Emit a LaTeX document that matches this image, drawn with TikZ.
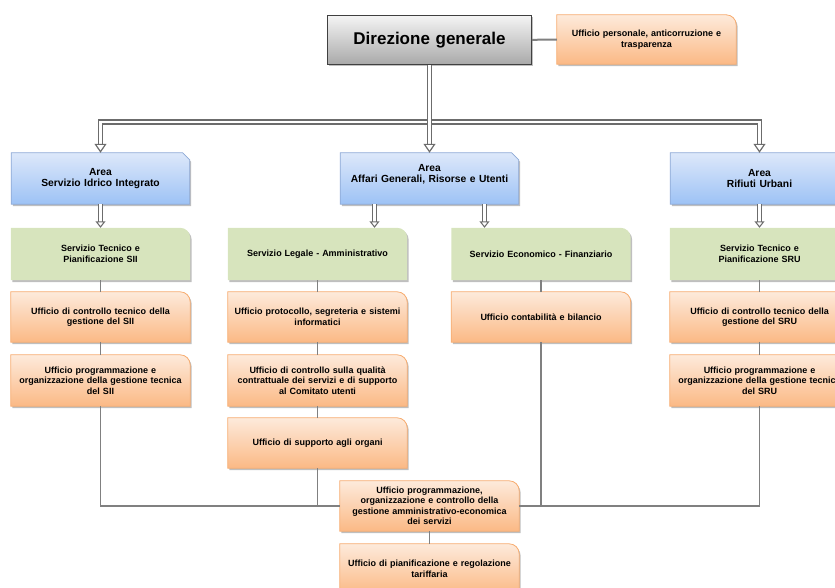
\documentclass[tikz,border=0pt]{standalone}
\usepackage{fontspec}
\setmainfont{Liberation Sans}
\usepackage{tikz}
\usetikzlibrary{arrows.meta}
\usetikzlibrary{positioning}
\usetikzlibrary{backgrounds}
\usetikzlibrary{shadows}

\definecolor{blueTop}{HTML}{DDE8FA}
\definecolor{blueBottom}{HTML}{9DC2F5}
\definecolor{blueLine}{HTML}{8DA9D6}
\definecolor{greenFill}{HTML}{D7E4BD}
\definecolor{orangeTop}{HTML}{FDEADB}
\definecolor{orangeBottom}{HTML}{FBB985}
\definecolor{orangeLine}{HTML}{F7AC70}
\definecolor{grayTop}{HTML}{F4F4F4}
\definecolor{grayBottom}{HTML}{A9A9A9}
\definecolor{linkGray}{HTML}{808080}

% box with rounded top right corner
\newcommand\roundBox[2]{
  \path[#2] (#1.south west) -- (#1.north west) -- ([xshift=-10pt]#1.north east)
    arc[start angle=90, end angle=0, radius=10pt] -- (#1.south east) -- cycle;
}
% box with cut top right corner
\newcommand\cutBox[2]{
  \path[#2] (#1.south west) -- (#1.north west) -- ([xshift=-7pt]#1.north east)
    -- ([yshift=-7pt]#1.north east) -- (#1.south east) -- cycle;
}

\begin{document}
\begin{tikzpicture}[x=1pt,y=1pt]
\tikzset{
  boxNode/.style={
    minimum width=179pt,
    minimum height=50pt,
    inner sep=0pt,
    text width=178pt,
    align=center,
    font=\fontsize{9}{10.5}\selectfont\bfseries
    },
  areaNode/.style={
    boxNode,
    minimum width=178pt,
    minimum height=51pt,
    font=\fontsize{10.3}{11.8}\selectfont\bfseries
    },
  boxShadow/.style={
    drop shadow={shadow xshift=1.5pt, shadow yshift=-2pt, opacity=0.25, fill=black}
    },
  orangeShape/.style={
    boxShadow, top color=orangeTop, bottom color=orangeBottom,
    draw=orangeLine, line width=0.8pt
    },
  greenShape/.style={
    boxShadow, fill=greenFill
    },
  blueShape/.style={
    boxShadow, top color=blueTop, bottom color=blueBottom,
    draw=blueLine, line width=0.8pt
    },
  bigArrow/.style={
    draw=gray!85!black, line width=1.25pt, double=white, double distance=2.6pt,
    -{Triangle[open, width=12pt, length=9pt, line width=1.2pt]}
    },
  smallArrow/.style={
    bigArrow, line width=1.05pt, double distance=2.1pt,
    -{Triangle[open, width=10pt, length=6.5pt, line width=1.05pt]}
    },
  linkLine/.style={
    draw=linkGray, line width=1.3pt
    }
}
    \useasboundingbox (0,0) rectangle (835,-588);

    \node (DG)[boxNode, minimum width=204pt, minimum height=49pt, boxShadow,
      top color=grayTop, bottom color=grayBottom, draw=black!75, line width=0.9pt,
      font=\fontsize{17}{20}\selectfont\bfseries] at (429.5,-40) {Direzione generale};
    \node (UP)[boxNode, minimum height=49pt] at (646.5,-39.5) {Ufficio personale, anticorruzione e\\trasparenza};

    \node (A1)[areaNode] at (100.5,-178.5) {Area\\Servizio Idrico Integrato};
    \node (A2)[areaNode, text depth=22pt] at (429.5,-178.5) {Area\\Affari Generali, Risorse e Utenti};
    \node (A3)[areaNode] at (759.5,-178.5) {Area\\Rifiuti Urbani};

    \node (S1)[boxNode, minimum height=52pt] at (100.5,-254) {Servizio Tecnico e\\Pianificazione SII};
    \node (S2)[boxNode, minimum height=52pt] at (317.5,-254) {Servizio Legale - Amministrativo};
    \node (S3)[boxNode, minimum height=52pt] at (541,-254) {Servizio Economico - Finanziario};
    \node (S4)[boxNode, minimum height=52pt] at (759.5,-254) {Servizio Tecnico e\\Pianificazione SRU};

    \node (U11)[boxNode] at (100.5,-317) {Ufficio di controllo tecnico della\\gestione del SII};
    \node (U12)[boxNode, minimum height=51pt] at (100.5,-380.5) {Ufficio programmazione e\\organizzazione della gestione tecnica\\del SII};
    \node (U21)[boxNode] at (317.5,-317) {Ufficio protocollo, segreteria e sistemi\\informatici};
    \node (U22)[boxNode, minimum height=51pt] at (317.5,-380.5) {Ufficio di controllo sulla qualità\\contrattuale dei servizi e di supporto\\al Comitato utenti};
    \node (U23)[boxNode] at (317.5,-443) {Ufficio di supporto agli organi};
    \node (U31)[boxNode] at (541,-317) {Ufficio contabilità e bilancio};
    \node (U41)[boxNode] at (759.5,-317) {Ufficio di controllo tecnico della\\gestione del SRU};
    \node (U42)[boxNode, minimum height=51pt] at (759.5,-380.5) {Ufficio programmazione e\\organizzazione della gestione tecnica\\del SRU};

    \node (P)[boxNode] at (429.5,-506) {Ufficio programmazione,\\organizzazione e controllo della\\gestione amministrativo-economica\\dei servizi};
    \node (T)[boxNode] at (429.5,-569) {Ufficio di pianificazione e regolazione\\tariffaria};

    \begin{scope}[on background layer]
    \foreach \n in {A1,A2,A3} {\cutBox{\n}{blueShape}}
    \foreach \n in {S1,S2,S3,S4} {\roundBox{\n}{greenShape}}
    \foreach \n in {UP,U11,U12,U21,U22,U23,U31,U41,U42,P,T} {\roundBox{\n}{orangeShape}}
    \end{scope}

    \coordinate (bus) at (429.5,-122);

    \draw[linkLine, line width=2pt] (DG) -- (UP);
    \draw[bigArrow] (bus) -| (A1);
    \draw[bigArrow] (bus) -| (A3);
    \draw[bigArrow] (DG) -- (A2);

    \draw[smallArrow] (A1) -- (S1);
    \draw[smallArrow] ([xshift=-55pt]A2.south) -- ([xshift=-55pt]A2.south |- S2.north);
    \draw[smallArrow] ([xshift=55pt]A2.south) -- ([xshift=55pt]A2.south |- S3.north);
    \draw[smallArrow] (A3) -- (S4);

    \draw[linkLine] (S1) -- (U11);
    \draw[linkLine] (U11) -- (U12);
    \draw[linkLine] (U12) |- (P);
    \draw[linkLine] (S2) -- (U21);
    \draw[linkLine] (U21) -- (U22);
    \draw[linkLine] (U22) -- (U23);
    \draw[linkLine] (U23) |- (P);
    \draw[linkLine] (S3) -- (U31);
    \draw[linkLine] (U31) |- (P);
    \draw[linkLine] (S4) -- (U41);
    \draw[linkLine] (U41) -- (U42);
    \draw[linkLine] (U42) |- (P);
    \draw[linkLine] (P) -- (T);

\end{tikzpicture}
\end{document}
